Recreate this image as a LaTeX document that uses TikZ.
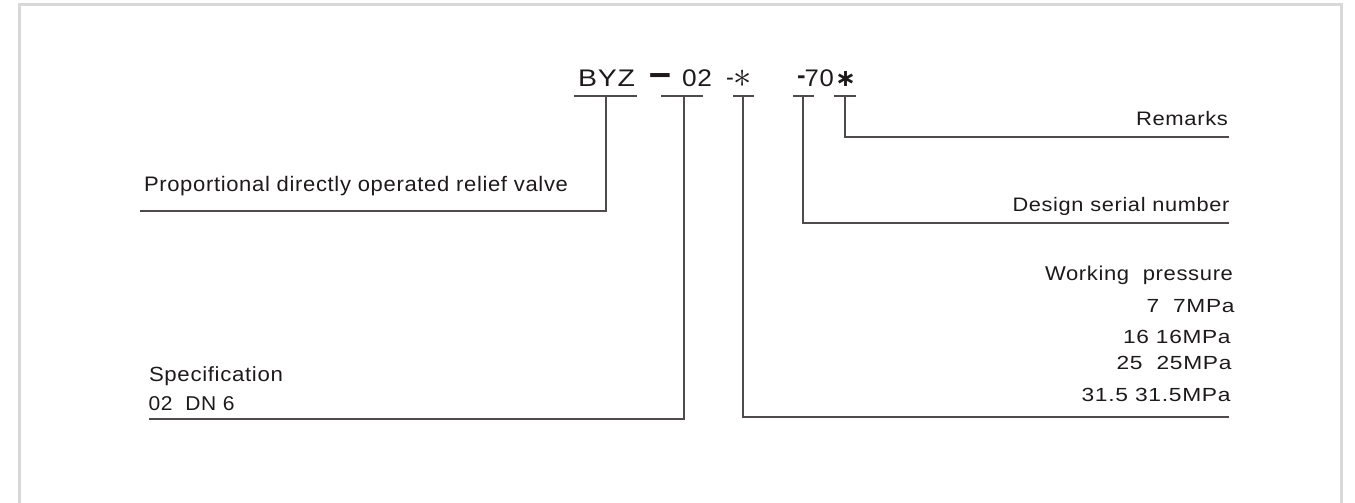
\documentclass[tikz,border=0pt]{standalone}
\usepackage{graphicx}
\usepackage{fontspec}
\setmainfont{Liberation Sans}[LetterSpace=3]
\newfontfamily\djvfont{DejaVu Sans}
\definecolor{ink}{RGB}{30,26,27}
\definecolor{lin}{RGB}{80,75,75}
\definecolor{frm}{RGB}{216,216,216}
\newcommand{\fw}[2]{\resizebox{#1pt}{\height}{#2}}
\newcommand{\fsz}[1]{\fontsize{#1}{#1}\selectfont}
\begin{document}
\begin{tikzpicture}[x=1pt,y=-1pt,
  lbl/.style={inner sep=0pt,outer sep=0pt,text=ink},
  lw/.style={lbl,anchor=base west},
  le/.style={lbl,anchor=base east},
  ln/.style={draw=lin,line width=1.3pt},
  ul/.style={draw=lin,line width=1.3pt}]
\useasboundingbox (0,0) rectangle (1355,503);
\begin{scope}
\clip (0,0) rectangle (1355,503);
\draw[frm,line width=3pt] (19,5) rectangle (1341.5,540);
\end{scope}

% code
\node[lw] (byz) at (578,87) {\fsz{24}\fw{57}{BYZ}};
\node[lw] (dsh) at (649,87) {\fsz{24}\fw{23}{\resizebox{\width}{1.7\height}{\textbf{–}}}};
\node[lw] (c02) at (682,87) {\fsz{24}\fw{30}{02}};
\node[lw] (cst) at (726,87) {\fsz{24}\fw{26}{\raisebox{1.5pt}{-}\scalebox{1.5}{$\ast$}}};
\node[lw] (c70) at (797,87) {\fsz{24}\fw{37}{\raisebox{3pt}{\textbf{-}}\kern-1.5pt 70}};
\node[lw] (cas) at (835,87) {\fsz{24}\fw{21}{{\djvfont\bfseries ∗}}};

% underline anchors
\coordinate (t1) at (606,96);
\coordinate (t2) at (684,96);
\coordinate (t3) at (743,96);
\coordinate (t4) at (803,96);
\coordinate (t5) at (845,96);
\draw[ul] (574,96) -- (637,96);
\draw[ul] (661,96) -- (703,96);
\draw[ul] (733,96) -- (754,96);
\draw[ul] (793,96) -- (814,96);
\draw[ul] (834,96) -- (856,96);

% line ends
\coordinate (e1) at (140,211);
\coordinate (e2) at (148.5,419);
\coordinate (e3) at (1229,417);
\coordinate (e4) at (1229,223);
\coordinate (e5) at (1229,137);

\draw[ln] (t1) |- (e1);
\draw[ln] (t2) |- (e2);
\draw[ln] (t3) |- (e3);
\draw[ln] (t4) |- (e4);
\draw[ln] (t5) |- (e5);

% labels
\node[lw] (prop) at (144,191) {\fsz{21}\fw{424}{Proportional directly operated relief valve}};
\node[lw] (spec) at (149,381) {\fsz{20.5}\fw{134}{Specification}};
\node[lw] (dn) at (148.5,410) {\fsz{20}\fw{86}{02\ \ DN 6}};
\node[le] (rem) at (1228,125) {\fsz{19.5}\fw{92}{Remarks}};
\node[le] (dsn) at (1229.5,211) {\fsz{19.5}\fw{217}{Design serial number}};
\node[le] (wp) at (1233,280) {\fsz{20}\fw{188}{Working\ \ pressure}};
\node[le] (p7) at (1234.5,312) {\fsz{19}\fw{88}{7\ \ 7MPa}};
\node[le] (p16) at (1230.6,343) {\fsz{19}\fw{107.5}{16 16MPa}};
\node[le] (p25) at (1231.5,369) {\fsz{19}\fw{115}{25\ \ 25MPa}};
\node[le] (p31) at (1230.6,401) {\fsz{19}\fw{149}{31.5 31.5MPa}};
\end{tikzpicture}
\end{document}
